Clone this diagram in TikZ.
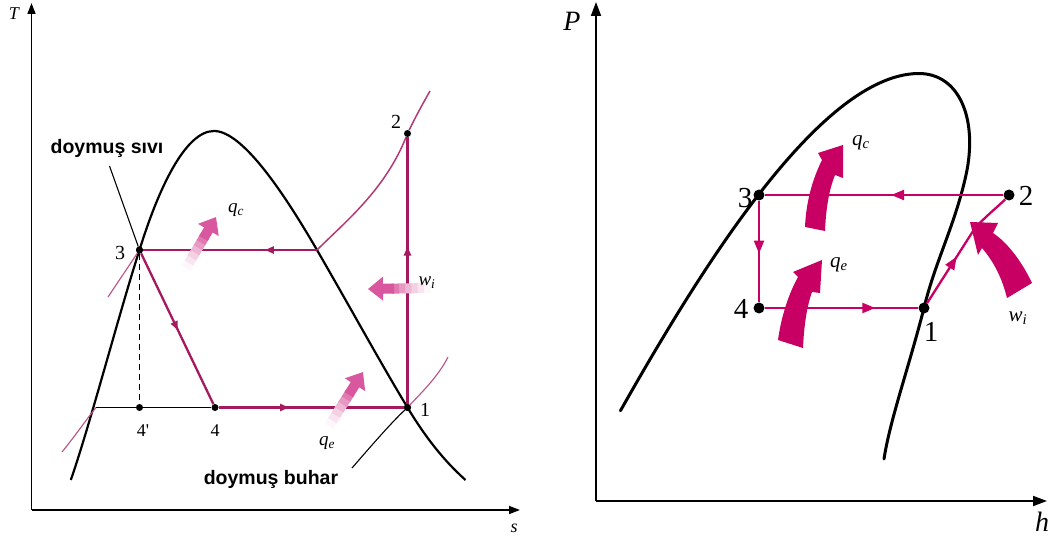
\documentclass[tikz,border=0pt]{standalone}
\usepackage{fontspec}
\setmainfont{Liberation Serif}
\newfontfamily\labsans{Liberation Sans}
\usetikzlibrary{arrows.meta,decorations.markings,calc}
\definecolor{magR}{RGB}{200,0,100}
\definecolor{magL}{RGB}{165,25,95}
\definecolor{pinkthin}{RGB}{185,80,135}
\definecolor{magF}{RGB}{205,40,130}
\tikzset{
  curveL/.style={line width=2.2pt, black},
  curveR/.style={line width=3pt, black, line cap=round},
  axisL/.style={line width=1.5pt, -{Triangle[length=11pt,width=8pt]}},
  axisR/.style={line width=1.8pt, -{Triangle[length=14pt,width=10pt]}},
  cycL/.style={line width=2.3pt, magL},
  cycR/.style={line width=2.3pt, magR},
  thinline/.style={line width=1.1pt},
  midarrowL/.style={postaction={decorate}, decoration={markings, mark=at position #1 with {\arrow{Triangle[length=9pt,width=7pt]}}}},
  midarrowR/.style={postaction={decorate}, decoration={markings, mark=at position #1 with {\arrow{Triangle[length=13pt,width=10pt]}}}},
  dotL/.style={circle, fill=black, inner sep=0pt, minimum size=7pt},
  dotR/.style={circle, fill=black, inner sep=0pt, minimum size=11pt},
  numL/.style={font=\fontsize{20}{20}\selectfont},
  numLs/.style={font=\fontsize{18}{18}\selectfont},
  numR/.style={font=\fontsize{29}{29}\selectfont},
  symL/.style={font=\fontsize{19}{19}\selectfont\itshape},
  symR/.style={font=\fontsize{21}{21}\selectfont\itshape},
  axlabL/.style={font=\fontsize{18}{18}\selectfont\itshape},
  axlabR/.style={font=\fontsize{28}{28}\selectfont\itshape},
  sattext/.style={font=\fontsize{19.5}{20}\selectfont\labsans\bfseries},
  bigarrow/.style={fill=magR, draw=none},
}
\newcommand{\fuzzyarr}[2]{%
  \foreach \i/\c in {0/4,1/12,2/22,3/34,4/48,5/62}{%
    \draw[line width=10pt, magF!\c] ($(#1)!\i*0.1!(#2)$) -- ($(#1)!\i*0.1+0.12!(#2)$);
  }
  \draw[line width=10pt, magF!78, -{Triangle[length=15pt,width=23pt]}] ($(#1)!0.58!(#2)$) -- (#2);
}
\begin{document}
\begin{tikzpicture}[x=1pt,y=-1pt]
\useasboundingbox (0,0) rectangle (1060,545);
\fill[white] (0,0) rectangle (1060,545);

%% ================= LEFT: T-s diagram =================
\coordinate (Lo) at (31.5,510);
\coordinate (LT) at (31.5,3);
\coordinate (Ls) at (520,510);
\draw[axisL] (Lo) -- (LT);
\draw[axisL] (Lo) -- (Ls);
\node[axlabL] (tT) at (14,14) {T};
\node[axlabL] (ts) at (514,528) {s};

% saturation dome
\draw[curveL] (70.8,480) .. controls (90,425) and (120,310) .. (139.5,250)
  .. controls (158,190) and (185,131) .. (214,131)
  .. controls (243,131) and (285,195) .. (317,250)
  .. controls (350,307) and (380,362) .. (407.5,407.5)
  .. controls (430,445) and (450,466) .. (465.5,480);

% points
\node[dotL] (l1) at (407.5,407.5) {};
\node[dotL] (l2) at (407.5,133.5) {};
\node[dotL] (l3) at (139.5,250) {};
\node[dotL] (l4) at (215,407.5) {};
\node[dotL] (l4p) at (139.5,407.5) {};
\coordinate (lsat) at (317,250);
\coordinate (lliq) at (96,407.5);

% thin lines
\draw[thinline, black] (109.5,166) -- (l3);
\draw[thinline, pinkthin] (108,297) -- (l3);
\draw[thinline, pinkthin] (62,452) .. controls (75,436) and (86,420) .. (lliq);
\draw[thinline, black] (352,468) .. controls (372,445) and (390,424) .. (l1);
\draw[thinline, pinkthin] (l1) .. controls (420,394) and (438,377) .. (448,357);
\draw[line width=1.5pt, magL!85] (lsat) .. controls (345,222) and (385,190) .. (l2) .. controls (415,118) and (422,105) .. (430,91);

% lines of the cycle
\draw[line width=1.6pt, black] (lliq) -- (l4p) -- (l4);
\draw[line width=1.5pt, black, dash pattern=on 6pt off 4pt] (l3) -- (l4p);
\draw[cycL, midarrowL=0.30] (lsat) -- (l3);
\draw[cycL, midarrowL=0.51] (l3) -- (l4);
\draw[cycL, midarrowL=0.38] (l4) -- (l1);
\draw[cycL, midarrowL=0.59] (l1) -- (l2);
\node[dotL] at (l1) {};
\node[dotL] at (l3) {};

% fuzzy heat/work arrows
\coordinate (qcT) at (186,268); \coordinate (qcH) at (216,217);
\coordinate (qeT) at (329,426); \coordinate (qeH) at (363,372);
\coordinate (wiT) at (430,288); \coordinate (wiH) at (368,289);
\fuzzyarr{qcT}{qcH}
\fuzzyarr{qeT}{qeH}
\fuzzyarr{wiT}{wiH}

% labels
\node[numL] (n2) at (396,122) {2};
\node[numL] (n3) at (120,253) {3};
\node[numL] (n1) at (425,410) {1};
\node[numLs] (n4) at (215,431) {4};
\node[numLs] (n4p) at (143,431) {4\textquotesingle};
\node[symL] (lqc) at (236,210) {q\textsubscript{\itshape c}};
\node[symL] (lqe) at (327,443) {q\textsubscript{\itshape e}};
\node[symL] (lwi) at (427,283) {w\textsubscript{\itshape i}};
\node[sattext] (dsv) at (107,148) {doymuş sıvı};
\node[sattext] (dbh) at (271,479) {doymuş buhar};

%% ================= RIGHT: P-h diagram =================
\coordinate (Ro) at (596,501);
\coordinate (RP) at (596,2);
\coordinate (Rh) at (1047,501);
\draw[axisR] (Ro) -- (RP);
\draw[axisR] (Ro) -- (Rh);
\node[axlabR] (tP) at (572,21) {P};
\node[axlabR] (th) at (1042,522) {h};

\draw[curveR] (620.4,410.8) .. controls (700,270) and (820,75) .. (918,73.5)
  .. controls (960,73) and (978,120) .. (966,175)
  .. controls (955,225) and (935,262) .. (924,308)
  .. controls (908,370) and (890,420) .. (884,459);

\node[dotR] (r3) at (759,195) {};
\node[dotR] (r2) at (1009,195) {};
\node[dotR] (r4) at (759,308) {};
\node[dotR] (r1) at (924,308) {};
\coordinate (rk) at (975,228);

\draw[cycR, midarrowR=0.47] (r2) -- (r3);
\draw[cycR, midarrowR=0.52] (r3) -- (r4);
\draw[cycR, midarrowR=0.72] (r4) -- (r1);
\draw[cycR, line join=round, midarrowR=0.62] (r1) -- (rk);
\draw[cycR] (rk) .. controls (988,214) and (1000,205) .. (r2);

% big curved arrows
\path[bigarrow] (805,227) -- (825,231) .. controls (826,208) and (829,190) .. (835,175) -- (843,178) -- (843,145) -- (818,153) -- (822,160) .. controls (812,180) and (806,203) .. cycle;
\path[bigarrow] (778,340) -- (803,348) .. controls (804,325) and (807,306) .. (812,292) -- (820,293) -- (822,260) -- (793,272) -- (798,277) .. controls (788,295) and (781,318) .. cycle;
\path[bigarrow] (1007,298) -- (1032,283) .. controls (1022,262) and (1008,243) .. (993,233) -- (998,223) -- (970,222) -- (978,255) -- (982,248) .. controls (994,262) and (1002,278) .. cycle;

\node[numR] (m3) at (745,198) {3};
\node[numR] (m2) at (1026,196) {2};
\node[numR] (m4) at (741,309) {4};
\node[numR] (m1) at (931,332) {1};
\node[symR] (rqc) at (861,143) {q\textsubscript{\itshape c}};
\node[symR] (rqe) at (839,265) {q\textsubscript{\itshape e}};
\node[symR] (rwi) at (1018,318) {w\textsubscript{\itshape i}};
\end{tikzpicture}
\end{document}
